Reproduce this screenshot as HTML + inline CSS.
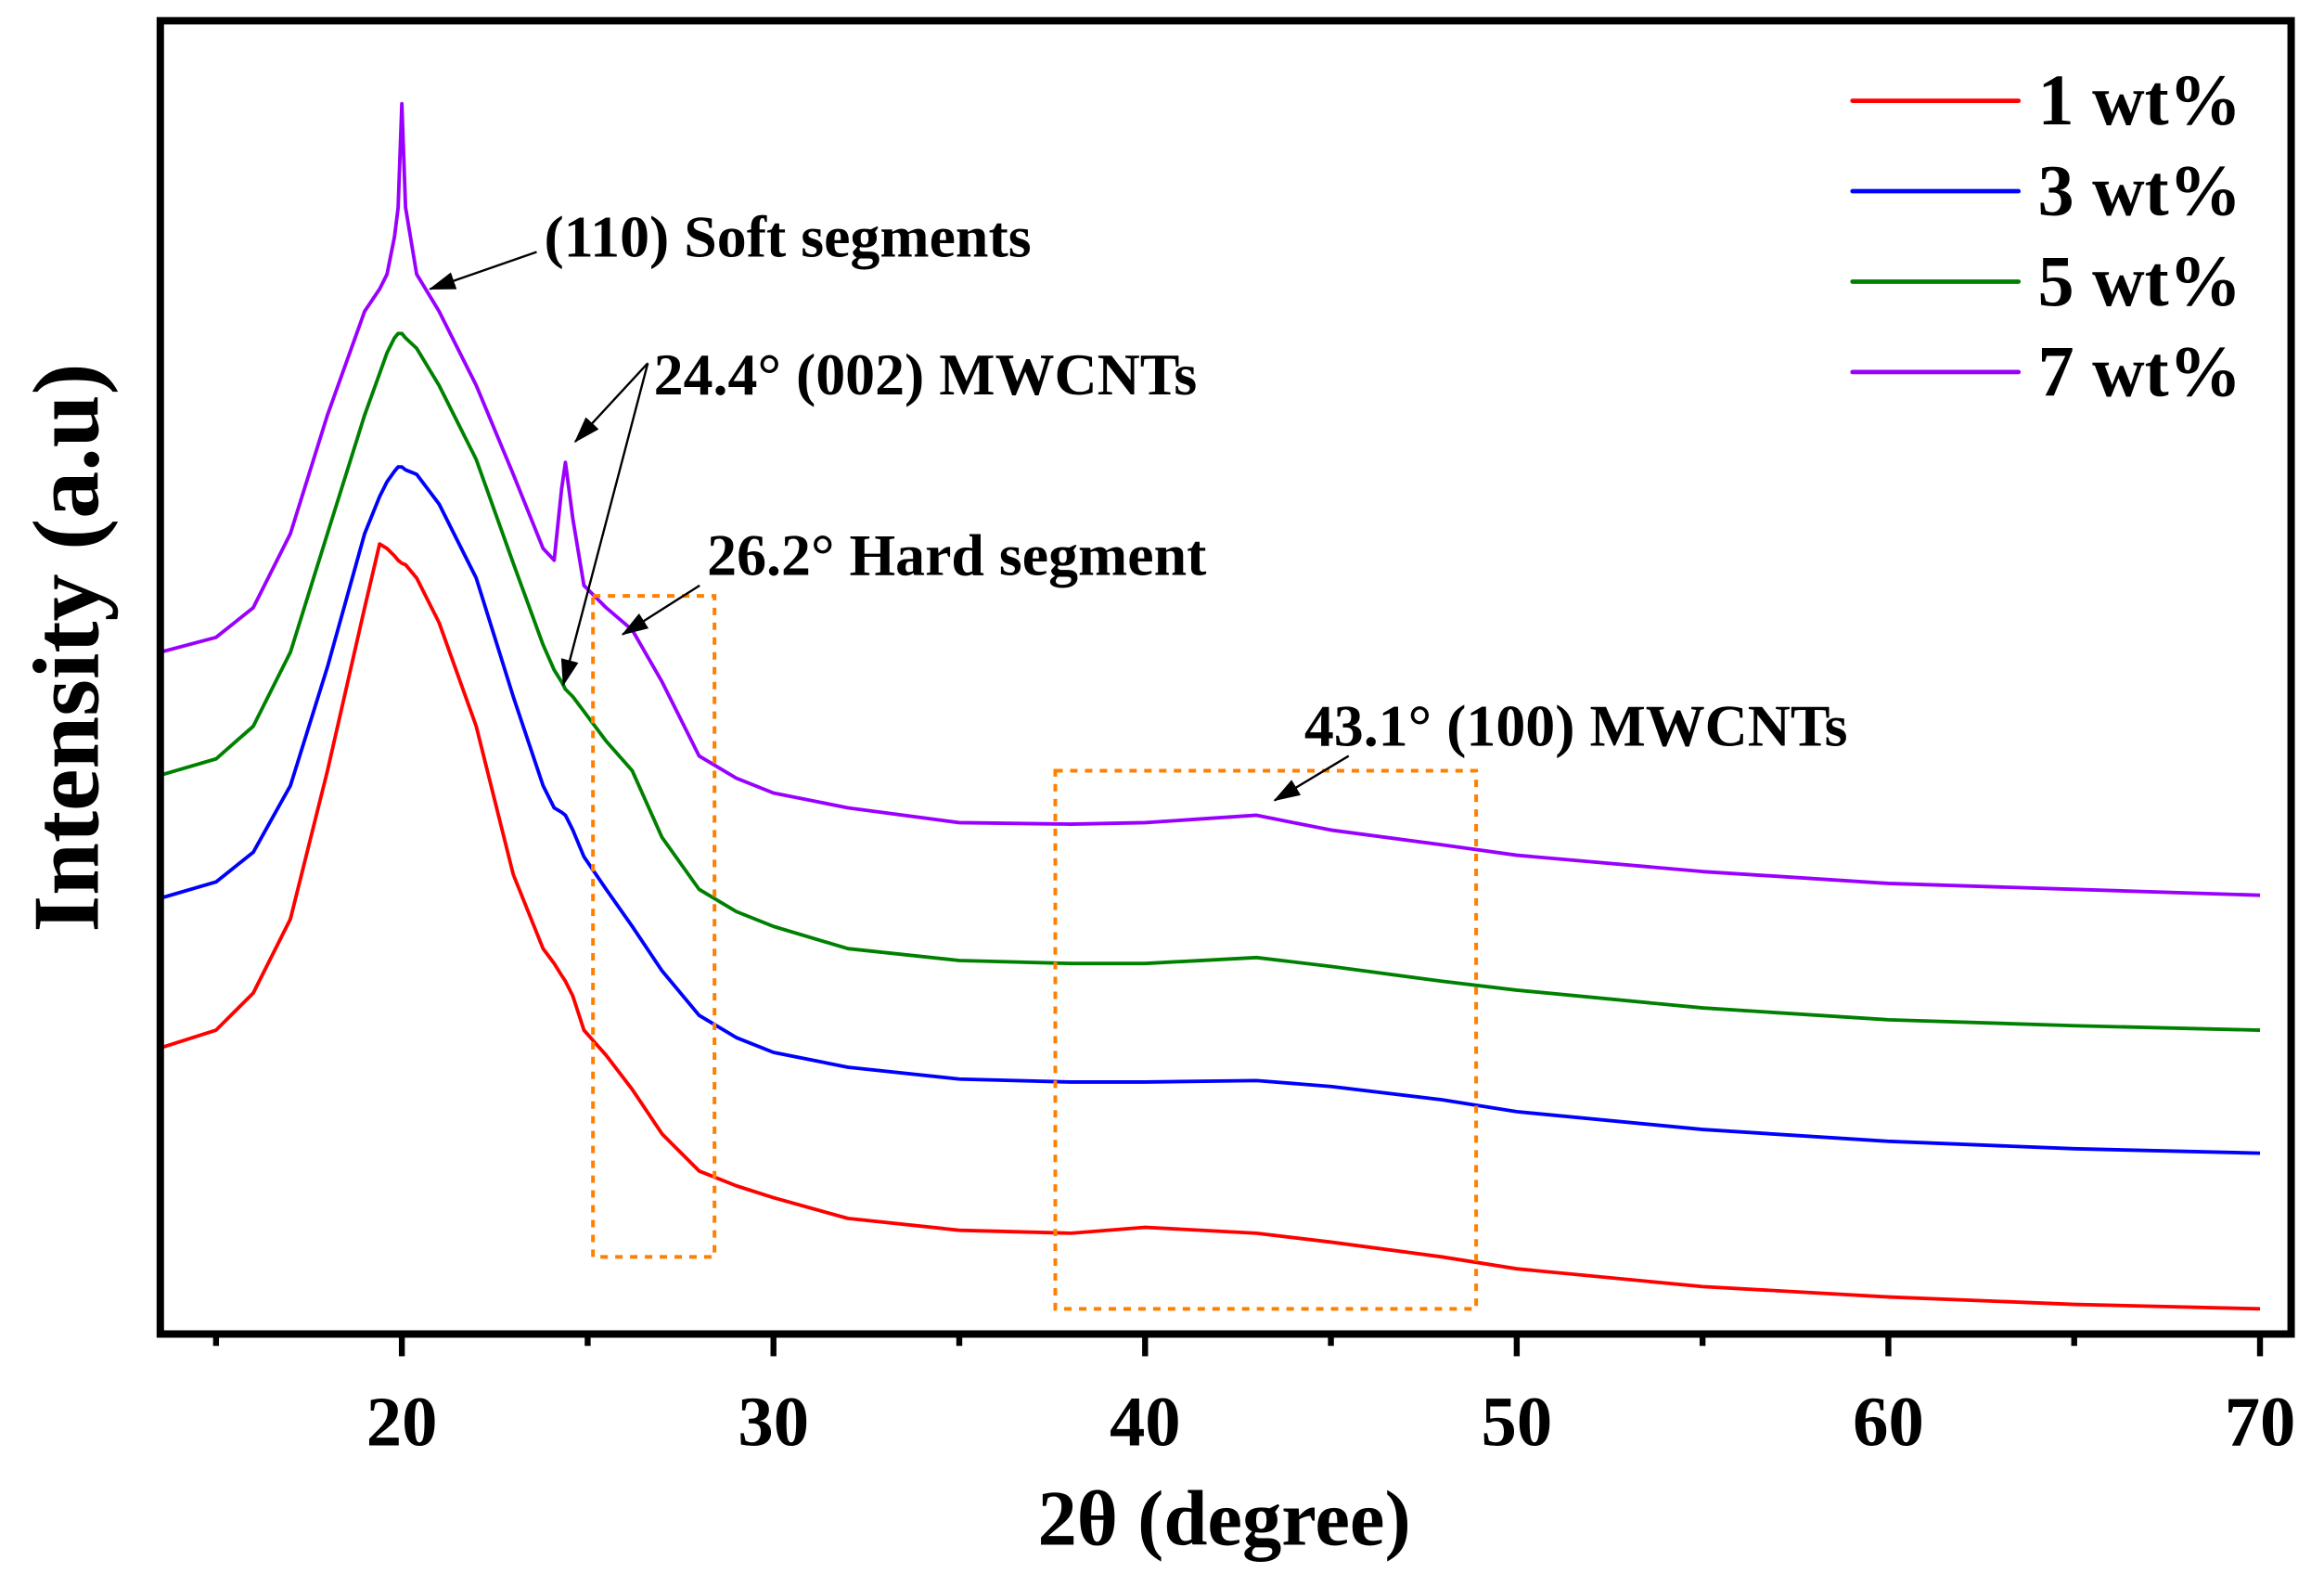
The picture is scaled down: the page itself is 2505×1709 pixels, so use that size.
<!DOCTYPE html>
<html><head><meta charset="utf-8"><style>
html,body{margin:0;padding:0;background:#fff;}
svg{display:block;}
text{font-family:"Liberation Serif",serif;font-weight:bold;fill:#000;}
</style></head><body>
<svg id="chart" width="2505" height="1709" viewBox="0 0 1568 1070" xmlns="http://www.w3.org/2000/svg">
<rect width="1568" height="1070" fill="#fff"/>
<g id="plot"></g>
<rect x="400" y="402" width="82" height="446" fill="none" stroke="#ff8000" stroke-width="2.5" stroke-dasharray="5,5"/>
<rect x="712" y="520" width="284" height="363" fill="none" stroke="#ff8000" stroke-width="2.5" stroke-dasharray="5,5"/>
<rect x="108" y="14" width="1438" height="886" fill="none" stroke="#000" stroke-width="5"/>
<g id="ticks"></g>
<text x="826" y="1042" font-size="53" text-anchor="middle">2θ (degree)</text>
<text transform="translate(66,437) rotate(-90)" font-size="64" text-anchor="middle">Intensity (a.u)</text>
<g font-size="40">
<text x="367" y="173">(110) Soft segments</text>
<text x="441" y="266">24.4° (002) MWCNTs</text>
<text x="477" y="388">26.2° Hard segment</text>
<text x="880" y="503">43.1° (100) MWCNTs</text>
</g>
<defs>
<marker id="ah2" markerWidth="18" markerHeight="12" refX="17" refY="6" orient="auto" markerUnits="userSpaceOnUse"><path d="M0,0 L18,6 L0,12 z" fill="#000"/></marker></defs>
<g stroke="#000" stroke-width="1.5" fill="none">
<line x1="362" y1="170" x2="290" y2="195" marker-end="url(#ah2)"/>
<line x1="437" y1="245" x2="388" y2="298" marker-end="url(#ah2)"/>
<line x1="437" y1="245" x2="380" y2="462" marker-end="url(#ah2)"/>
<line x1="472" y1="395" x2="420" y2="428" marker-end="url(#ah2)"/>
<line x1="910" y1="510" x2="860" y2="540" marker-end="url(#ah2)"/>
</g>
<g id="legend"></g>
</svg>
<script>
const xs=[13.5,15,16,17,18,19,19.4,19.6,19.8,19.9,20,20.1,20.4,21,22,23,23.8,24.1,24.3,24.4,24.6,24.9,25.5,26.2,27,28,29,30,32,35,38,40,43,45,48,50,55,60,65,70];
const red=  [193,205,230,280,380,490,533,530,525,522,520,519,510,480,410,310,260,250,242,238,228,205,188,165,135,110,100,92,78,70,68,72,68,62,52,44,32,25,20,17];
const blue= [294,305,325,370,450,540,565,575,582,585,585,583,580,560,510,430,370,355,352,350,340,322,300,275,245,215,200,190,180,172,170,170,171,167,158,150,138,130,125,122];
const green=[377,388,410,460,540,620,648,662,672,675,675,672,665,640,590,520,465,448,440,435,430,420,400,380,335,300,285,275,260,252,250,250,254,248,238,232,220,212,208,205];
const purple=[460,470,490,540,620,690,705,715,740,760,830,760,715,690,640,580,530,522,570,588,550,505,490,475,440,390,375,365,355,345,344,345,350,340,330,323,312,304,300,296];
const series=[{n:'1 wt%',c:'#ff0000',d:red,k:'red'},{n:'3 wt%',c:'#0000ff',d:blue,k:'blue'},{n:'5 wt%',c:'#008000',d:green,k:'green'},{n:'7 wt%',c:'#9900ff',d:purple,k:'purple'}];
const xTicks=[20,30,40,50,60,70];
const xMinor=[15,25,35,45,55,65];
const NS='http://www.w3.org/2000/svg';
const X=v=>271+(v-20)*25.08;
const Y=v=>900-v;
const plot=document.getElementById('plot');
series.forEach(s=>{
 const p=document.createElementNS(NS,'path');
 p.setAttribute('d',xs.map((x,i)=>(i?'L':'M')+X(x).toFixed(1)+','+Y(s.d[i]).toFixed(1)).join(''));
 p.setAttribute('fill','none');p.setAttribute('stroke',s.c);p.setAttribute('stroke-width','2.4');p.setAttribute('stroke-linejoin','round');
 
 
 plot.appendChild(p);
});
const tk=document.getElementById('ticks');
xTicks.forEach(t=>{
 const l=document.createElementNS(NS,'line');
 l.setAttribute('x1',X(t));l.setAttribute('x2',X(t));l.setAttribute('y1',900);l.setAttribute('y2',915);l.setAttribute('stroke','#000');l.setAttribute('stroke-width','4');
 
 
 tk.appendChild(l);
 const tx=document.createElementNS(NS,'text');
 tx.setAttribute('x',X(t));tx.setAttribute('y',975);tx.setAttribute('font-size','48');tx.setAttribute('text-anchor','middle');tx.textContent=t;
 
 
 tk.appendChild(tx);
});
xMinor.forEach(t=>{
 const l=document.createElementNS(NS,'line');
 l.setAttribute('x1',X(t));l.setAttribute('x2',X(t));l.setAttribute('y1',900);l.setAttribute('y2',908);l.setAttribute('stroke','#000');l.setAttribute('stroke-width','4');
 
 
 tk.appendChild(l);
});
const lg=document.getElementById('legend');
series.forEach((s,i)=>{
 const y=68+i*61;
 const l=document.createElementNS(NS,'line');
 l.setAttribute('x1',1250);l.setAttribute('x2',1362);l.setAttribute('y1',y);l.setAttribute('y2',y);l.setAttribute('stroke',s.c);l.setAttribute('stroke-width','3');l.setAttribute('stroke-linecap','round');
 
 
 lg.appendChild(l);
 const t=document.createElementNS(NS,'text');
 t.setAttribute('x',1375);t.setAttribute('y',y+16);t.setAttribute('font-size','49');t.textContent=s.n;
 
 
 lg.appendChild(t);
});
</script>
</body></html>
